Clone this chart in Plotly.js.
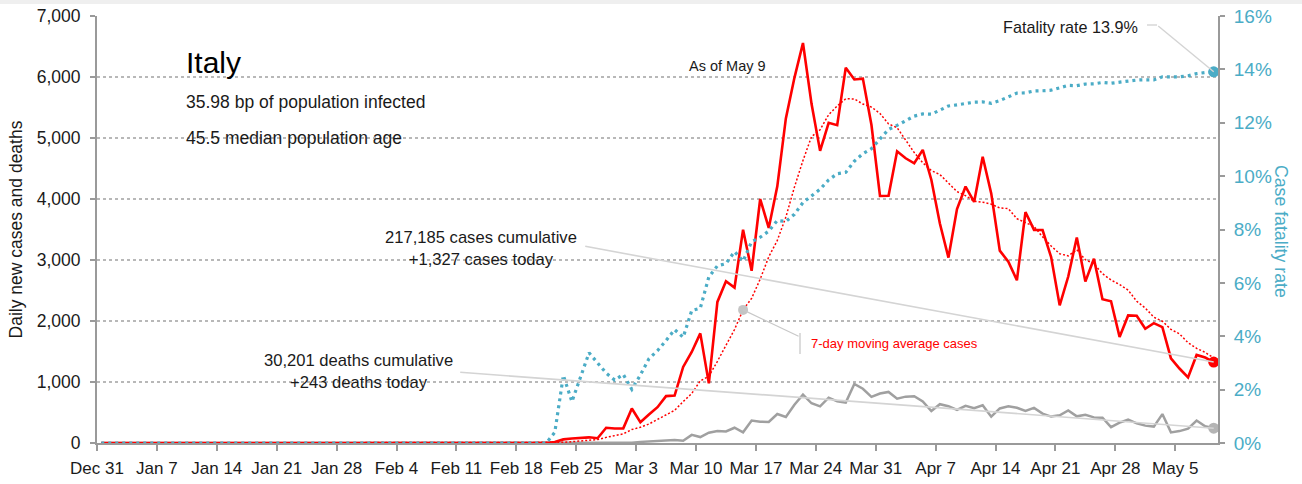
<!DOCTYPE html>
<html>
<head>
<meta charset="utf-8">
<script src="https://cdn.plot.ly/plotly-3.0.1.min.js"></script>
<style>
  html, body { margin: 0; padding: 0; background: #ffffff; }
  #chart { width: 1302px; height: 484px; }
</style>
</head>
<body>
<div id="chart"></div>
<script>
// ---- Data (ECDC reporting dates, Dec 31 2019 .. May 9 2020) ----
const startDate = '2019-12-31';
const dayCount = 131;

// Daily new cases
const cases = [
  0,0,0,0,0,0,0,0,0,0,0,0,0,0,0,0,0,0,0,0,0,0,0,0,0,0,0,0,0,0,0,
  2,0,0,0,0,0,0,1,0,0,0,0,0,0,0,0,0,0,0,0,0,0,
  17,59,73,77,93,78,250,238,
  240,566,342,466,587,769,778,1247,1492,1797,977,2313,2651,2547,3497,2823,4000,3526,4207,5322,5986,6557,5560,4789,5249,5210,6153,5959,5974,5217,4050,
  4053,4782,4668,4585,4805,4316,3599,3039,3836,4204,3951,4694,4092,3153,2972,2667,3786,3493,3491,3047,2256,2729,3370,2646,3021,2357,2324,1739,2091,2086,
  1872,1965,1900,1389,1221,1075,1444,1401,1327
];

// Daily new deaths
const deaths = [
  0,0,0,0,0,0,0,0,0,0,0,0,0,0,0,0,0,0,0,0,0,0,0,0,0,0,0,0,0,0,0,
  0,0,0,0,0,0,0,0,0,0,0,0,0,0,0,0,0,0,0,0,0,0,
  0,2,1,4,3,2,5,4,
  8,5,18,27,28,41,49,36,133,97,168,196,189,250,175,368,349,345,475,427,627,793,651,601,743,683,662,969,889,756,812,
  837,727,760,766,681,525,636,604,542,610,570,619,431,566,602,578,525,575,482,433,454,534,437,464,420,415,260,333,382,323,
  285,269,474,174,195,236,369,274,243
];

// 7-day moving average of cases
const maCases = [
  0,0,0,0,0,0,0,0,0,0,0,0,0,0,0,0,0,0,0,0,0,0,0,0,0,0,0,0,0,0,0,
  0.3,0.3,0.3,0.3,0.3,0.3,0.3,0.1,0.1,0.1,0.1,0.1,0.1,0.1,0,0,0,0,0,0,0,0,
  2.4,10.9,21.3,32.3,45.6,56.7,92.4,124.0,
  149.9,220.3,258.1,311.4,384.1,458.3,535.4,679.3,811.6,1019.4,1092.4,1339.0,1607.9,1860.6,2182.0,2372.1,2686.9,3051.0,3321.6,3703.1,4194.4,4631.6,5022.6,5135.3,5381.4,5524.7,5643.4,5639.6,5556.3,5507.3,5401.7,
  5230.9,5169.7,4957.6,4761.3,4594.3,4465.6,4401.1,4256.3,4121.1,4054.9,3964.3,3948.4,3916.4,3852.7,3843.1,3676.1,3616.4,3551.0,3379.1,3229.9,3101.7,3067.0,3167.4,3004.6,2937.1,2775.1,2671.9,2598.0,2506.9,2323.4,
  2212.9,2062.0,1996.7,1863.1,1789.1,1644.0,1552.3,1485.0,1393.9
];

// Case fatality rate (%)
const fatality = [
  0,0,0,0,0,0,0,0,0,0,0,0,0,0,0,0,0,0,0,0,0,0,0,0,0,0,0,0,0,0,0,
  0,0,0,0,0,0,0,0,0,0,0,0,0,0,0,0,0,0,0,0,0,0,
  0.4,2.53,1.55,2.5,3.38,3.0,2.62,2.36,
  2.57,2.01,2.55,3.16,3.46,3.84,4.25,3.96,4.96,5.05,6.22,6.64,6.72,7.17,6.81,7.54,7.71,7.94,8.34,8.30,8.57,9.01,9.26,9.51,9.86,10.09,10.14,10.56,10.84,11.03,11.39,
  11.75,11.90,12.07,12.25,12.33,12.32,12.47,12.63,12.67,12.73,12.77,12.78,12.73,12.83,12.97,13.11,13.12,13.19,13.20,13.22,13.31,13.40,13.39,13.45,13.46,13.51,13.48,13.53,13.58,13.60,
  13.61,13.61,13.72,13.71,13.72,13.76,13.84,13.88,13.91
];

// Text content
const countryName = 'Italy';
const infoLines = ['35.98 bp of population infected', '45.5 median population age'];
const asOfText = 'As of May 9';
const fatalityLabel = 'Fatality rate 13.9%';
const casesLabel = ['217,185 cases cumulative', '+1,327 cases today'];
const deathsLabel = ['30,201 deaths cumulative', '+243 deaths today'];
const maLabel = '7-day moving average cases';
const yTitle = 'Daily new cases and deaths';
const y2Title = 'Case fatality rate';
const maMarkIndex = 75; // Mar 15

// ---- Dates (plotted at mid-day) ----
const dates = [];
for (let i = 0; i < dayCount; i++) {
  const d = new Date(Date.UTC(2019, 11, 31, 12) + i * 86400000);
  dates.push(d.toISOString().slice(0, 10) + ' 12:00');
}
const last = dayCount - 1;

const FONT = '"Liberation Sans", Arial, sans-serif';
const RED = '#ff0000';
const BLUE = '#4bacc6';
const GREY = '#a0a0a0';
const AXIS = '#9a9a9a';
const LEADER = '#d4d4d4';
const TXT = '#1a1a1a';

const traces = [
  { x: dates, y: deaths, type: 'scatter', mode: 'lines', name: 'Deaths',
    line: { color: GREY, width: 2.5 }, hoverinfo: 'skip' },
  { x: dates, y: maCases, type: 'scatter', mode: 'lines', name: '7-day avg',
    line: { color: RED, width: 1.5, dash: '2px,2px' }, hoverinfo: 'skip' },
  { x: dates, y: cases, type: 'scatter', mode: 'lines', name: 'Cases',
    line: { color: RED, width: 2.6 }, hoverinfo: 'skip' },
  { x: [dates[maMarkIndex]], y: [maCases[maMarkIndex]], type: 'scatter', mode: 'markers',
    marker: { color: '#c4c4c4', size: 10 }, hoverinfo: 'skip' },
  { x: [dates[last]], y: [deaths[last]], type: 'scatter', mode: 'markers',
    marker: { color: '#b4b4b4', size: 11 }, hoverinfo: 'skip' },
  { x: [dates[last]], y: [cases[last]], type: 'scatter', mode: 'markers',
    marker: { color: RED, size: 11 }, hoverinfo: 'skip' },
  { x: dates, y: fatality, type: 'scatter', mode: 'lines', yaxis: 'y2', name: 'CFR',
    line: { color: BLUE, width: 3.2, dash: '3px,4px' }, hoverinfo: 'skip' },
  { x: [dates[last]], y: [fatality[last]], type: 'scatter', mode: 'markers', yaxis: 'y2',
    marker: { color: BLUE, size: 11 }, hoverinfo: 'skip' }
];

// plot area: left 97, right 1218, top 16, bottom 443
const L = 97, R = 1218, T = 16, B = 443;
const px = v => (v - L) / (R - L);
const py = v => (B - v) / (B - T);

const annotations = [
  { xref: 'paper', yref: 'paper', x: px(184), y: py(62), xanchor: 'left', yanchor: 'middle',
    text: countryName, showarrow: false, font: { family: FONT, size: 30, color: '#000' } },
  { xref: 'paper', yref: 'paper', x: px(184), y: py(102), xanchor: 'left', yanchor: 'middle',
    text: infoLines[0], showarrow: false, font: { family: FONT, size: 17.5, color: TXT } },
  { xref: 'paper', yref: 'paper', x: px(184), y: py(138), xanchor: 'left', yanchor: 'middle',
    text: infoLines[1], showarrow: false, font: { family: FONT, size: 17.5, color: TXT } },
  { xref: 'paper', yref: 'paper', x: px(727), y: py(66), xanchor: 'center', yanchor: 'middle',
    text: asOfText, showarrow: false, font: { family: FONT, size: 14.5, color: TXT } },
  { xref: 'paper', yref: 'paper', x: px(1140), y: py(27), xanchor: 'right', yanchor: 'middle',
    text: fatalityLabel, showarrow: false, font: { family: FONT, size: 16.2, color: TXT } },
  { xref: 'paper', yref: 'paper', x: px(481), y: py(249), xanchor: 'center', yanchor: 'middle',
    text: casesLabel.join('<br>'), showarrow: false, font: { family: FONT, size: 16.6, color: TXT } },
  { xref: 'paper', yref: 'paper', x: px(358), y: py(371), xanchor: 'center', yanchor: 'middle',
    text: deathsLabel.join('<br>'), showarrow: false, font: { family: FONT, size: 16.6, color: TXT } },
  { xref: 'paper', yref: 'paper', x: px(809), y: py(343), xanchor: 'left', yanchor: 'middle',
    text: maLabel, showarrow: false, font: { family: FONT, size: 13, color: RED } },
  { xref: 'paper', yref: 'paper', x: px(1281), y: py(231), xanchor: 'center', yanchor: 'middle',
    text: y2Title, textangle: 90, showarrow: false, font: { family: FONT, size: 17.7, color: BLUE } },
  // leader lines
  { x: dates[last], y: cases[last], xref: 'x', yref: 'y', text: '', showarrow: true,
    arrowhead: 0, arrowwidth: 1.6, arrowcolor: LEADER, ax: -630, ay: -116, standoff: 0 },
  { x: dates[last], y: deaths[last], xref: 'x', yref: 'y', text: '', showarrow: true,
    arrowhead: 0, arrowwidth: 1.6, arrowcolor: LEADER, ax: -755, ay: -56, standoff: 0 },
  { x: dates[last], y: fatality[last], xref: 'x', yref: 'y2', text: '', showarrow: true,
    arrowhead: 0, arrowwidth: 1.4, arrowcolor: LEADER, ax: -57, ay: -47, standoff: 0 },
  { x: dates[maMarkIndex], y: maCases[maMarkIndex], xref: 'x', yref: 'y', text: '', showarrow: true,
    arrowhead: 0, arrowwidth: 1.2, arrowcolor: '#c8c8c8', ax: 57, ay: 27, standoff: 0 }
];

const shapes = [
  { type: 'rect', xref: 'paper', yref: 'paper', x0: px(0), x1: px(1302), y0: py(4), y1: py(0),
    fillcolor: '#efefef', line: { width: 0 }, layer: 'above' },
  { type: 'line', xref: 'paper', yref: 'paper', x0: px(1147), x1: px(1157), y0: py(25), y1: py(25),
    line: { color: LEADER, width: 1.4 } },
  { type: 'line', xref: 'paper', yref: 'paper', x0: px(800), x1: px(800), y0: py(333), y1: py(354),
    line: { color: '#d0d0d0', width: 1.5 } }
];

const layout = {
  width: 1302, height: 484,
  margin: { l: L, r: 1302 - R, t: T, b: 484 - B, pad: 0 },
  paper_bgcolor: '#ffffff', plot_bgcolor: '#ffffff',
  showlegend: false,
  font: { family: FONT, color: TXT },
  xaxis: {
    type: 'date', range: ['2019-12-31', '2020-05-10'],
    tick0: '2019-12-31', dtick: 7 * 86400000, tickformat: '%b %-d', tickangle: 0,
    showgrid: false, zeroline: false,
    showline: true, linecolor: AXIS, linewidth: 2,
    ticks: 'outside', ticklen: 6, tickwidth: 2, tickcolor: AXIS,
    tickfont: { family: FONT, size: 17, color: TXT },
    ticklabelstandoff: 3
  },
  yaxis: {
    range: [0, 7000], dtick: 1000, tickformat: ',d',
    showgrid: true, gridcolor: '#b8b8b8', gridwidth: 1.3, griddash: 'dot',
    zeroline: false, showline: true, linecolor: AXIS, linewidth: 2,
    ticks: 'outside', ticklen: 5, tickwidth: 2, tickcolor: AXIS,
    tickfont: { family: FONT, size: 17.5, color: TXT },
    ticklabelstandoff: 6,
    title: { text: yTitle, font: { family: FONT, size: 17.5, color: TXT }, standoff: 10 }
  },
  yaxis2: {
    overlaying: 'y', side: 'right', range: [0, 16], dtick: 2, ticksuffix: '%',
    showgrid: false, zeroline: false, showline: true, linecolor: AXIS, linewidth: 2,
    ticks: 'outside', ticklen: 5, tickwidth: 2, tickcolor: AXIS,
    tickfont: { family: FONT, size: 19, color: BLUE },
    ticklabelstandoff: 5
  },
  annotations: annotations,
  shapes: shapes
};

Plotly.newPlot('chart', traces, layout, { displayModeBar: false, staticPlot: true });
</script>
</body>
</html>
